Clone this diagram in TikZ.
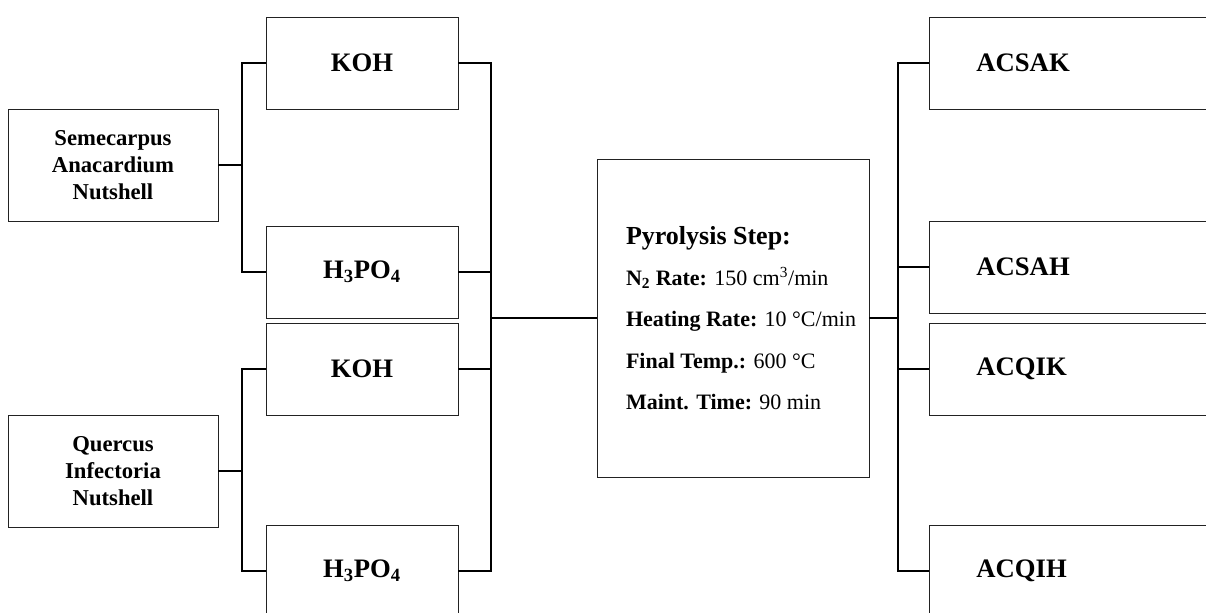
\documentclass[tikz,border=0pt]{standalone}
\usepackage{fontspec}
\setmainfont{Liberation Serif}
\usepackage{tikz}
\definecolor{fcline}{HTML}{222222}

\begin{document}
\begin{tikzpicture}[
  x=0.75pt, y=-0.75pt,
  box/.style={draw=fcline, line width=0.6pt, align=center, inner sep=0pt,
              font=\fontsize{20}{24}\selectfont\bfseries},
  src/.style={box, minimum width=157.5pt, minimum height=84pt,
              font=\fontsize{17}{20.25}\selectfont\bfseries},
  agent/.style={box, minimum width=144pt, minimum height=69pt},
  stepbox/.style={box, align=flush left, text width=160.5pt, inner xsep=21.75pt,
                  minimum height=238.5pt, font=\fontsize{16.5}{31}\selectfont},
  prod/.style={box, anchor=west, align=flush left, text width=144pt, inner xsep=35.25pt,
               minimum height=69pt},
  link/.style={black, line width=1pt}
]
\clip (0,0) rectangle (1206,612);
\node[src] (sanut) at (113,165) {Semecarpus\\Anacardium\\Nutshell};
\node[src] (qinut) at (113,471) {Quercus\\Infectoria\\Nutshell};
\node[agent] (sakoh) at (362,63) {KOH};
\node[agent] (sahp) at (362,272) {H\textsubscript{3}PO\textsubscript{4}};
\node[agent] (qikoh) at (362,369) {KOH};
\node[agent] (qihp) at (362,571) {H\textsubscript{3}PO\textsubscript{4}};
\node[stepbox] (pyro) at (733,318) {{\fontsize{19.5}{24}\selectfont\bfseries Pyrolysis Step:}\\
  \mbox{\textbf{N\textsubscript{2} Rate:} 150 cm\textsuperscript{3}/min}\\
  \mbox{\textbf{Heating Rate:} 10 °C/min}\\
  \mbox{\textbf{Final Temp.:} 600 °C}\\
  \mbox{\textbf{Maint. Time:} 90 min}};
\node[prod] (acsak) at (929,63) {ACSAK};
\node[prod] (acsah) at (929,267) {ACSAH};
\node[prod] (acqik) at (929,369) {ACQIK};
\node[prod] (acqih) at (929,571) {ACQIH};
% bus points
\coordinate (safork) at (242,165);
\coordinate (qifork) at (242,471);
\coordinate (mixbus) at (491,318);
\coordinate (outbus) at (898,318);
\draw[link] (sanut) -- (safork);
\draw[link] (sakoh.west) -| (safork) |- (sahp.west);
\draw[link] (qinut) -- (qifork);
\draw[link] (qikoh.west) -| (qifork) |- (qihp.west);
\draw[link] (sakoh.east) -| (mixbus) |- (qihp.east);
\foreach \a in {sahp, qikoh}
  \draw[link] (\a.east) -- (\a.east -| mixbus);
\draw[link] (mixbus) -- (pyro.west);
\draw[link] (pyro.east) -- (outbus);
\draw[link] (acsak.west) -| (outbus) |- (acqih.west);
\foreach \b in {acsah, acqik}
  \draw[link] (\b.west) -- (\b.west -| outbus);
\end{tikzpicture}
\end{document}
